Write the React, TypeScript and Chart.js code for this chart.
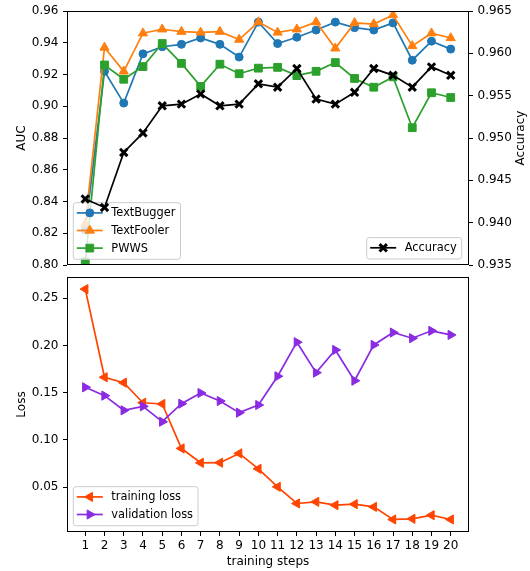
import React, { useEffect, useRef } from 'react';
import { Chart, registerables } from 'chart.js';

Chart.register(...registerables);

// ---------------- data ----------------
const steps = [1, 2, 3, 4, 5, 6, 7, 8, 9, 10, 11, 12, 13, 14, 15, 16, 17, 18, 19, 20];
const textBuggerAuc = [0.822, 0.922, 0.902, 0.933, 0.9375, 0.939, 0.943, 0.939, 0.931, 0.953, 0.9395, 0.9435, 0.948, 0.953, 0.9495, 0.948, 0.9525, 0.929, 0.941, 0.936];
const textFoolerAuc = [0.826, 0.937, 0.922, 0.946, 0.9485, 0.947, 0.9465, 0.947, 0.942, 0.953, 0.9465, 0.9485, 0.953, 0.9365, 0.9525, 0.9518, 0.9575, 0.938, 0.946, 0.943];
const pwwsAuc = [0.802, 0.926, 0.917, 0.925, 0.9395, 0.927, 0.9125, 0.9265, 0.9205, 0.924, 0.9245, 0.9193, 0.922, 0.9275, 0.9175, 0.912, 0.9185, 0.8865, 0.9085, 0.9055];
const accuracy = [0.9428, 0.9418, 0.9483, 0.9506, 0.9538, 0.954, 0.9552, 0.9538, 0.954, 0.9564, 0.956, 0.9582, 0.9546, 0.954, 0.9554, 0.9582, 0.9574, 0.956, 0.9584, 0.9574];
const trainingLoss = [0.2595, 0.1663, 0.1606, 0.1394, 0.1381, 0.0911, 0.0759, 0.076, 0.0858, 0.0695, 0.0505, 0.0329, 0.0346, 0.0311, 0.0322, 0.0293, 0.016, 0.0167, 0.0205, 0.016];
const validationLoss = [0.1557, 0.1469, 0.1314, 0.1356, 0.1193, 0.1384, 0.1497, 0.1412, 0.1289, 0.137, 0.1674, 0.2034, 0.1712, 0.1952, 0.1627, 0.2005, 0.2136, 0.2076, 0.2154, 0.2111];

const aucTicks = [0.8, 0.82, 0.84, 0.86, 0.88, 0.9, 0.92, 0.94, 0.96];
const accTicks = [0.935, 0.94, 0.945, 0.95, 0.955, 0.96, 0.965];
const lossTicks = [0.05, 0.1, 0.15, 0.2, 0.25];

// ---------------- styles ----------------
const BLUE = '#1f77b4';
const ORANGE = '#ff7f0e';
const GREEN = '#2ca02c';
const BLACK = '#000000';
const RED = '#ff4500';
const VIOLET = '#8a2be2';
const FONT_FAMILY = '"DejaVu Sans", sans-serif';
const FONT_SIZE = 12;
const LEGEND_FONT_SIZE = 11.4;
const LINE_W = 1.7;

Chart.defaults.font.family = FONT_FAMILY;
Chart.defaults.font.size = FONT_SIZE;
Chart.defaults.color = '#000';

const pts = (vals: number[]) => vals.map((v, i) => ({ x: steps[i], y: v }));

type Mk = { label: string; color: string; style: string; radius: number; rotation: number; bw: number };

function drawMarker(ctx: CanvasRenderingContext2D, m: Mk, x: number, y: number) {
  ctx.save();
  ctx.translate(x, y);
  ctx.rotate((m.rotation * Math.PI) / 180);
  ctx.beginPath();
  const r = m.radius;
  if (m.style === 'circle') {
    ctx.arc(0, 0, r, 0, Math.PI * 2);
  } else if (m.style === 'triangle') {
    ctx.moveTo(0, -r);
    ctx.lineTo(r * Math.sin((2 * Math.PI) / 3), -r * Math.cos((2 * Math.PI) / 3));
    ctx.lineTo(r * Math.sin((4 * Math.PI) / 3), -r * Math.cos((4 * Math.PI) / 3));
    ctx.closePath();
  } else if (m.style === 'rect') {
    const s = r * Math.SQRT1_2;
    ctx.rect(-s, -s, 2 * s, 2 * s);
  } else if (m.style === 'crossRot') {
    const s = r * Math.SQRT1_2;
    ctx.moveTo(-s, -s);
    ctx.lineTo(s, s);
    ctx.moveTo(-s, s);
    ctx.lineTo(s, -s);
  }
  ctx.fillStyle = m.color;
  ctx.strokeStyle = m.color;
  ctx.lineWidth = m.bw;
  if (m.style !== 'crossRot') ctx.fill();
  ctx.stroke();
  ctx.restore();
}

function drawLegend(ctx: CanvasRenderingContext2D, items: Mk[], anchorX: number, bottom: number, alignRight: boolean) {
  ctx.save();
  ctx.font = `${LEGEND_FONT_SIZE}px ${FONT_FAMILY}`;
  const textW = Math.max(...items.map((i) => ctx.measureText(i.label).width));
  const padL = 3.5;
  const handle = 26;
  const gap = 8.5;
  const padR = 5;
  const w = padL + handle + gap + textW + padR;
  const rowH = 17.6;
  const h = 10.2 + (items.length - 1) * rowH + 11.2;
  const left = alignRight ? anchorX - w : anchorX;
  const top = bottom - h;
  const rad = 2.5;
  ctx.beginPath();
  ctx.moveTo(left + rad, top);
  ctx.lineTo(left + w - rad, top);
  ctx.arcTo(left + w, top, left + w, top + rad, rad);
  ctx.lineTo(left + w, top + h - rad);
  ctx.arcTo(left + w, top + h, left + w - rad, top + h, rad);
  ctx.lineTo(left + rad, top + h);
  ctx.arcTo(left, top + h, left, top + h - rad, rad);
  ctx.lineTo(left, top + rad);
  ctx.arcTo(left, top, left + rad, top, rad);
  ctx.closePath();
  ctx.fillStyle = 'rgba(255,255,255,0.8)';
  ctx.fill();
  ctx.strokeStyle = '#cccccc';
  ctx.lineWidth = 1;
  ctx.stroke();
  items.forEach((it, i) => {
    const y = top + 10.2 + i * rowH;
    ctx.beginPath();
    ctx.moveTo(left + padL, y);
    ctx.lineTo(left + padL + handle, y);
    ctx.strokeStyle = it.color;
    ctx.lineWidth = LINE_W;
    ctx.stroke();
    drawMarker(ctx, it, left + padL + handle / 2, y);
    ctx.fillStyle = '#000';
    ctx.textBaseline = 'middle';
    ctx.textAlign = 'left';
    ctx.fillText(it.label, left + padL + handle + gap, y + 0.5);
  });
  ctx.restore();
}

function drawFrame(ctx: CanvasRenderingContext2D, a: { left: number; top: number; right: number; bottom: number }) {
  ctx.save();
  ctx.strokeStyle = '#000';
  ctx.lineWidth = 1;
  const l = Math.round(a.left) + 0.5;
  const t = Math.round(a.top) + 0.5;
  const r = Math.round(a.right) - 0.5;
  const b = Math.round(a.bottom) - 0.5;
  ctx.strokeRect(l, t, r - l, b - t);
  ctx.restore();
}

function drawVText(ctx: CanvasRenderingContext2D, text: string, x: number, y: number) {
  ctx.save();
  ctx.font = `${FONT_SIZE}px ${FONT_FAMILY}`;
  ctx.fillStyle = '#000';
  ctx.translate(x, y);
  ctx.rotate(-Math.PI / 2);
  ctx.textAlign = 'center';
  ctx.textBaseline = 'middle';
  ctx.fillText(text, 0, 0);
  ctx.restore();
}

const mkDataset = (label: string, vals: number[], color: string, style: string, radius: number, rotation: number, bw: number, axis: string, order: number) => ({
  label,
  data: pts(vals),
  yAxisID: axis,
  borderColor: color,
  backgroundColor: color,
  borderWidth: LINE_W,
  pointStyle: style,
  pointRadius: radius,
  pointRotation: rotation,
  pointBackgroundColor: color,
  pointBorderColor: color,
  pointBorderWidth: bw,
  order,
  fill: false,
  tension: 0,
});

const tickGrid = { display: true, drawOnChartArea: false, drawTicks: true, tickLength: 4, color: '#000', lineWidth: 1 };

const fixVertical = (w: number) => (s: any) => {
  s.width = w;
  s.paddingTop = 0;
  s.paddingBottom = 0;
};

const setTicks = (vals: number[]) => (s: any) => {
  s.ticks = vals.map((v) => ({ value: v }));
};

const topItemsLeft: Mk[] = [
  { label: 'TextBugger', color: BLUE, style: 'circle', radius: 4, rotation: 0, bw: 1 },
  { label: 'TextFooler', color: ORANGE, style: 'triangle', radius: 5.3, rotation: 0, bw: 1 },
  { label: 'PWWS', color: GREEN, style: 'rect', radius: 5.5, rotation: 0, bw: 1 },
];
const topItemsRight: Mk[] = [{ label: 'Accuracy', color: BLACK, style: 'crossRot', radius: 5.2, rotation: 0, bw: 3 }];
const bottomItems: Mk[] = [
  { label: 'training loss', color: RED, style: 'triangle', radius: 5.3, rotation: -90, bw: 1 },
  { label: 'validation loss', color: VIOLET, style: 'triangle', radius: 5.3, rotation: 90, bw: 1 },
];

export default function App() {
  const topRef = useRef<HTMLCanvasElement>(null);
  const botRef = useRef<HTMLCanvasElement>(null);

  useEffect(() => {
    const topPlugin = {
      id: 'topDeco',
      afterDatasetDraw(chart: any, args: any) {
        if (args.index === 2) {
          const a = chart.chartArea;
          drawLegend(chart.ctx, topItemsLeft, a.left + 6.3, a.bottom - 5.7, false);
        }
      },
      afterDatasetsDraw(chart: any) {
        const a = chart.chartArea;
        const ctx = chart.ctx;
        drawFrame(ctx, a);
        drawLegend(ctx, topItemsRight, a.right - 7.3, a.bottom - 6, true);
        const cy = (a.top + a.bottom) / 2;
        drawVText(ctx, 'AUC', a.left - 45.5, cy);
        drawVText(ctx, 'Accuracy', a.right + 52, cy);
      },
    };

    const botPlugin = {
      id: 'botDeco',
      afterDatasetsDraw(chart: any) {
        const a = chart.chartArea;
        const ctx = chart.ctx;
        drawFrame(ctx, a);
        drawLegend(ctx, bottomItems, a.left + 6.3, a.bottom - 6.3, false);
        drawVText(ctx, 'Loss', a.left - 45.5, (a.top + a.bottom) / 2);
        ctx.save();
        ctx.font = `${FONT_SIZE}px ${FONT_FAMILY}`;
        ctx.fillStyle = '#000';
        ctx.textAlign = 'center';
        ctx.textBaseline = 'middle';
        ctx.fillText('training steps', (a.left + a.right) / 2, a.bottom + 29.7);
        ctx.restore();
      },
    };

    const top = new Chart(topRef.current as HTMLCanvasElement, {
      type: 'line',
      data: {
        datasets: [
          mkDataset('TextBugger', textBuggerAuc, BLUE, 'circle', 4, 0, 1, 'y', 3),
          mkDataset('TextFooler', textFoolerAuc, ORANGE, 'triangle', 5.3, 0, 1, 'y', 2),
          mkDataset('PWWS', pwwsAuc, GREEN, 'rect', 5.5, 0, 1, 'y', 1),
          mkDataset('Accuracy', accuracy, BLACK, 'crossRot', 5.2, 0, 3, 'y1', 0),
        ] as any,
      },
      options: {
        animation: false,
        responsive: false,
        events: [],
        layout: { padding: { top: 11, bottom: 25, left: 0, right: 0 } },
        plugins: { legend: { display: false }, tooltip: { enabled: false } },
        scales: {
          x: { type: 'linear', min: 0.05, max: 20.95, display: false },
          y: {
            type: 'linear',
            position: 'left',
            min: 0.8,
            max: 0.96,
            afterFit: fixVertical(67),
            afterBuildTicks: setTicks(aucTicks),
            ticks: { padding: 4.5, color: '#000', callback: (v: any) => Number(v).toFixed(2) },
            grid: tickGrid,
            border: { display: false },
          },
          y1: {
            type: 'linear',
            position: 'right',
            min: 0.935,
            max: 0.965,
            afterFit: fixVertical(61),
            afterBuildTicks: setTicks(accTicks),
            ticks: { padding: 4.5, color: '#000', callback: (v: any) => Number(v).toFixed(3) },
            grid: tickGrid,
            border: { display: false },
          },
        },
      } as any,
      plugins: [topPlugin],
    });

    const bot = new Chart(botRef.current as HTMLCanvasElement, {
      type: 'line',
      data: {
        datasets: [
          mkDataset('training loss', trainingLoss, RED, 'triangle', 5.3, -90, 1, 'y', 1),
          mkDataset('validation loss', validationLoss, VIOLET, 'triangle', 5.3, 90, 1, 'y', 0),
        ] as any,
      },
      options: {
        animation: false,
        responsive: false,
        events: [],
        layout: { padding: { top: 7, bottom: 0, left: 0, right: 61 } },
        plugins: { legend: { display: false }, tooltip: { enabled: false } },
        scales: {
          x: {
            type: 'linear',
            min: 0.05,
            max: 20.95,
            afterFit: (s: any) => {
              s.height = 39;
              s.paddingLeft = 0;
              s.paddingRight = 0;
            },
            afterBuildTicks: setTicks(steps),
            ticks: { padding: 2.5, color: '#000', autoSkip: false, maxRotation: 0, callback: (v: any) => String(v) },
            grid: tickGrid,
            border: { display: false },
          },
          y: {
            type: 'linear',
            position: 'left',
            min: 0.00275,
            max: 0.2723,
            afterFit: fixVertical(67),
            afterBuildTicks: setTicks(lossTicks),
            ticks: { padding: 4.5, color: '#000', callback: (v: any) => Number(v).toFixed(2) },
            grid: tickGrid,
            border: { display: false },
          },
        },
      } as any,
      plugins: [botPlugin],
    });

    return () => {
      top.destroy();
      bot.destroy();
    };
  }, []);

  return (
    <div style={{ position: 'absolute', left: 0, top: 0, width: 530, height: 571, background: '#fff' }}>
      <canvas ref={topRef} width={530} height={290} style={{ position: 'absolute', left: 0, top: 0, width: 530, height: 290 }} />
      <canvas ref={botRef} width={530} height={301} style={{ position: 'absolute', left: 0, top: 270, width: 530, height: 301 }} />
    </div>
  );
}
